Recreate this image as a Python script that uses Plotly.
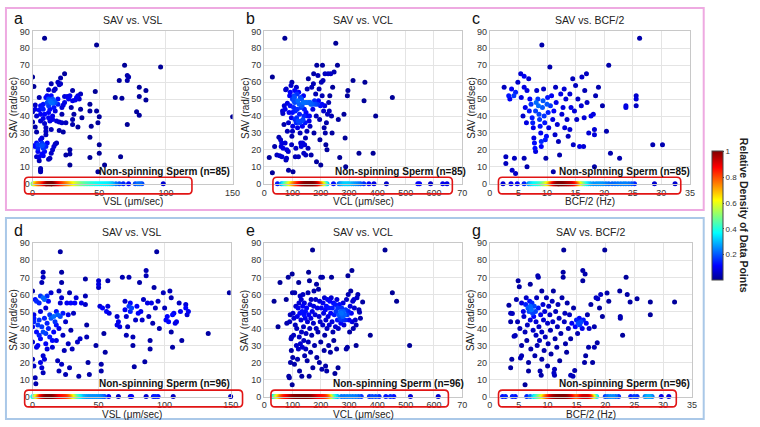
import numpy as np
import plotly.graph_objects as go

W, H = 760, 427

# ---------------- data ----------------
# Spinning sperm: (x, SAV) pairs
a_spin = [(0,63),(1,57.5),(0,42.5),(0,36.5),(1,22.5),(2,22),(2,46.5),(2,44),(3,40),(2,33.5),(3,30.5),(3,24),(4,23),(4,21),(3,16),(4,19),(5,16),(5,13.5),(6,9),(6,8),(6,7),
          (5,51),(5,43.5),(6,46),(6,41),(6,37),(6,26),(7,27),(7,24),(7,22.5),(8,23),(8,21),(8,16.5),(7,17.5),(9,19),
          (7,45),(8,47),(8,44),(8,38.5),(9,35.5),(9,41),(10,33),(10,31),(10,29),(10,22),(11,24),
          (10,51),(11,48),(11,52),(12,50),(12,55.5),(12,46),(12,42),(12,39),(13,37),(13,44),(13,49),
          (14,59),(14,52),(14,48),(15,50),(15,47.5),(16,49),(16,55),(15,40),(15,38),(14,32),(15,20),(14,18),(13,15),(12,14.5),
          (16,45),(17,48),(17,56),(17,43),(18,37),(18,24),(17,23.5),(16,22),
          (19,60),(19,50),(19,47),(20,58.5),(20,36.5),(20,31.5),(21,62.5),(21,59),(22,41),(22,45),(23,46.5),(23,30.5),(22,36),
          (24,48),(24,65),(24,51.5),(25,36),(25,17),(26,51.5),(27,50),(28,52),(28,17.5),(28,20),(28,11),(29,45),
          (30,49),(30,55),(30,38),(30,35),(31,41),(32,49.5),(33,51),(34,52),(34,33.5),(35,50),(37,39),(36,44),(36,53),
          (43,47),(43,43),(44,34),(43,27.5),(43,15.5),(47,54.5),(48,43),(49,36),(50,39.5),(50,23),(50,18),(49,7),(54,11),
          (9,86),(48,82),(62,51),(65,61),(66,16),(67,50.5),(69,70),(71,64),(72,63),(71,61),(71,35),(78,42.5),(80,40.5),
          (80,57),(80,51.5),(85,55),(85,49.5),(96,69),(150,39.5)]
b_spin = [(29,63),(18,15.5),(29,6.5),(37,22),(45,17),(52,27.5),(55,16.5),(58,26),(60,22),(62,24),(63,16),(65,43),(66,41.5),(67,21),
          (70,35),(71,46),(73,86),(74,44),(74,24),(76,55.5),(77,14),(78,56),(79,15),(80,20),(82,47.5),(82,31),(85,19),(86,36),(86,8),
          (88,42),(90,52),(92,54),(92,46),(95,58),(96,39),(97,23),(98,60),(98,28),(100,31),(100,50),(100,42),(101,34),(102,7),(104,45),
          (105,49),(106,52),(107,51),(108,55),(108,48),(109,38),(110,16),(110,43),(112,21),(113,36),(114,57),(115,39),(116,53),(117,44),
          (118,33),(119,49),(120,37),(121,16),(122,54),(124,47),(125,41),(126,36),(127,30),(128,51),(129,24),(130,45),(131,22),(132,50),
          (133,37),(134,46),(135,34),(136,24),(137,38),(138,48),(139,52),(140,18),(141,40),(142,44),(143,23),(144,48),(145,36),(146,27),
          (147,17),(148,42),(150,48),(151,31),(152,56),(154,40),(155,21),(156,62),(157,48),(159,37),(160,40),(162,34),(163,48),(165,47),
          (166,17),(168,57),(170,47),(172,44),(174,59),(175,65),(176,30),(178,49),(180,47),(182,53),(184,40),(185,13),(186,70),(188,47),
          (190,64),(192,49),(194,56),(196,38),(197,26),(199,46),(200,11),(202,60),(204,47),(205,52),(206,70),(208,61),(210,43),(212,33),
          (214,46),(215,65),(216,30),(218,23),(220,36),(222,20),(224,41),(226,65),(228,48),(230,43),(232,52),(235,65),(238,40),(240,30),
          (242,57),(247,66),(253,83),(259,70),(262,38),(267,15.5),(282,41),(286,27),(288,10),(294,52),(296,55),(314,61),(335,18),(353,49),
          (356,60),(385,18),(394,40),(453,51)]
c_spin = [(2.8,16),(2.8,12),(3.9,8),(4.5,6),(4.3,15),(6,15),(6.5,10),(2.5,57),(3.3,52),(3.5,50),(3.8,56),(4.2,52),(4.5,54),(4.9,60),
          (5.4,65),(5.5,51),(5.8,40),(6,63.5),(6,57),(6.2,45),(6.4,36),(6.5,55),(6.8,62),(6.9,43),(7,50),(7.2,47),(7.4,39),(7.5,36),
          (7.6,33),(7.7,27),(7.8,24),(7.9,21),(8,19),(8,43),(8.1,48),(8.2,55),(8.4,50),(8.5,46),(8.6,41),(8.7,38),(8.8,34),(8.9,30),
          (9,25),(9,22),(9.1,82),(9.2,45),(9.3,49),(9.4,56),(9.5,40),(9.6,36),(9.7,26),(9.8,15),(9.9,28),(10,47),(10.1,51),(10.2,42),
          (10.3,33),(10.5,69),(10.6,46),(10.8,52),(11,38),(11.1,7),(11.2,43),(11.4,29),(11.5,57),(11.6,48),(11.8,35),(12,25),(12.2,17),
          (12.4,53),(12.6,41),(12.8,45),(13,56),(13.1,33),(13.3,50),(13.5,38),(13.7,28),(14,32),(14,53),(14.2,45),(14.5,62),(14.6,23),
          (14.8,43),(15,58),(15.2,38),(15.4,50),(15.7,22),(16,46),(16.1,63),(16.4,22),(16.5,39),(16.6,55),(16.9,65),(17,48),(17.3,30),
          (17.7,40),(18.1,41),(18.3,32),(18.3,29),(18.3,10),(18.5,52),(19,57),(19.7,46),(20.4,31),(20.8,70),(21.1,18),(22.7,15),
          (23.8,46),(23.8,45),(25.6,52),(25.6,50),(25.6,46),(26.2,86),(28.5,23),(30.2,23)]
d_spin = [(0,62),(0,41),(0,32),(0,22),(1,18),(1,48),(1,46),(1,44),(2,11),(2.5,7.5),(2,57),(3,29),(3,38),(3,56),(4,42),(4,30),(5,55),
          (5,45),(5,36),(6,59),(6,50),(6,34),(6,20),(7,67),(7,17),(7,41),(8,73),(8,70),(8,58),(8,38),(8,24),(8,14),(9,57),(9,46),(9,22),
          (10,52),(10,37),(10,31),(11,59),(11,43),(11,28),(12,56),(12,40),(13,48),(13,35),(14,61),(14,46),(15,33),(15,29),(16,47),(16,38),
          (17,44),(18,50),(18,42),(18,33),(19,48),(19,21),(20,62),(20,40),(20,15),(21,85),(21,55),(21,47),(22,73),(22,67),(22,58),(22,19),
          (23,49),(23,36),(24,27),(25,13),(25,44),(26,55),(27,31),(27,48),(28,61),(28,17),(29,55),(29,39),(30,28),(31,49),(32,55),(33,58),
          (34,32),(35,12),(36,34),(37,55),(40,69),(40,59),(40,54),(41,42),(41,35),(42,20),(43,13),(48,30),(50,68),(50,66),(50,64),(51,53),
          (52,19),(52,15),(53,52),(54,37),(55,26),(56,50),(57,68),(57,53),(58,49),(64,47),(64,42),(65,44),(66,41),(68,70),(70,56),(70,51),
          (71,36),(71,47),(72,41),(73,70),(73,53),(74,55),(74,50),(75,52),(76,35),(76,30),(77,17.5),(78,45),(79,53),(80,49),(81,67),(82,50),
          (83,45),(84,57),(85,20.5),(86,74),(86,71),(87,55),(88,47),(89,33),(89,28),(90,55),(91,43),(92,64),(93,52),(94,85),(95,56),(96,40),
          (99,61),(100,52),(101,45),(102,47),(103,44),(104,62),(105,58),(105,38),(106,29),(106,48),(107,49),(108,43),(109,44),(111,55),
          (112,50),(113,33),(116,52),(116,54),(117,48),(118,50),(133,37),(149,61)]
e_spin = [(35,56),(49,41),(56,67),(78,57),(80,43),(85,70),(87,12),(89,11),(90,44),(92,48),(93,20),(95,34),(96,27),(97,35),(99,72),(99,7),
          (100,61),(101,23),(102,49),(104,36),(105,46),(107,19),(108,61),(110,42),(112,53),(114,30),(115,40),(117,47),(118,22),(120,52),
          (121,28),(122,67),(123,55),(124,35),(125,15),(126,49),(127,59),(128,31),(130,45),(131,57),(132,38),(133,12),(134,50),(135,29),
          (136,53),(137,60),(139,41),(140,33),(141,48),(142,55),(143,24),(145,46),(146,50),(147,28),(148,37),(150,52),(152,21),(153,44),
          (155,61),(156,32),(157,73),(158,48),(159,12),(160,68),(161,40),(162,54),(164,26),(165,46),(166,57),(168,36),(170,50),(171,86),
          (172,17),(174,43),(175,53),(176,62),(178,30),(180,48),(182,57),(184,40),(185,66),(186,23),(188,52),(190,38),(192,63),(194,47),
          (195,20),(196,56),(198,44),(200,70),(200,32),(202,52),(204,16),(206,70),(207,42),(208,55),(210,49),(212,27),(213,58),(214,36),
          (216,51),(217,18),(218,45),(220,53),(221,15),(222,40),(224,57),(226,47),(228,30),(229,52),(230,42),(232,56),(234,26),(235,49),
          (237,58),(238,70),(240,44),(241,52),(243,38),(245,55),(246,33),(248,48),(250,13.5),(251,54),(252,41),(254,50),(256,28),(257,57),
          (259,45),(260,52),(261,17),(262,40),(264,48),(266,54),(268,46),(270,50),(271,43),(273,49),(274,52),(276,45),(278,47),(279,55),
          (280,50),(282,42),(284,48),(286,45),(288,51),(290,28),(291,57),(293,48),(294,29),(296,71),(297,60),(298,50),(300,45),(302,38),
          (304,53),(306,62),(308,49),(310,74),(311,44),(313,56),(315,40),(317,57),(319,52),(322,45),(325,42),(325,30),(328,58),(331,60),
          (335,51),(337,49.5),(340,46),(348,55.5),(375,36),(427,86),(453,61),(468,56),(514,30)]
g_spin = [(3.3,53.6),(3.6,49),(3.9,48.8),(3.6,44),(4.2,35.4),(4.4,35.8),(3.6,17),(3.8,22),(5.3,22.6),(5.5,24),(4.9,68),(5.1,64.5),
          (4.6,57),(4.8,44),(5.2,40),(5.5,30),(5.5,55),(5.8,50),(5.9,47),(6.1,7),(6.1,38),(6.2,54),(6.3,58),(6.4,33),(6.5,42),(6.6,52),
          (6.7,15),(6.7,20),(6.8,50),(6.9,56),(7,66),(7,45),(7,53),(7.1,28),(7.2,51),(7.3,55),(7.4,49),(7.5,39),(7.6,47),(7.7,53),(7.8,24),
          (7.9,50),(8,36),(8,44),(8.1,58),(8.2,30),(8.3,71),(8.4,70),(8.4,52),(8.5,41),(8.6,33),(8.7,15),(8.8,48),(8.9,12.5),(9,62),(9,38),
          (9,22),(9.2,54),(9.3,45),(9.4,27),(9.5,50),(9.6,35),(9.8,58),(10,43),(10,18),(10.1,31),(10.2,53),(10.4,48),(10.5,39),(10.6,25),
          (10.8,56),(10.9,44),(11,62),(11.1,13.8),(11.2,12.5),(11.2,16),(11.3,34),(11.4,50),(11.6,29),(11.7,41),(11.8,54),(12,46),(12.1,21),
          (12.3,37),(12.5,58),(12.7,73),(12.7,70),(12.8,86),(12.9,44),(13,49),(13.1,31),(13.3,26),(13.4,55),(13.6,40),(13.8,48),(14,12.5),
          (14,34),(14.2,43),(14.4,12),(14.5,52),(14.7,15.3),(14.8,41),(15,45),(15.2,37),(15.3,43),(15.5,46),(15.6,42),(15.8,44),(16,40),
          (16.1,74),(16.1,68),(16.2,45),(16.4,20),(16.5,72),(16.6,24),(16.7,43),(16.9,48),(17.1,29),(17.2,40),(17.5,54),(17.8,20),(18.1,29),
          (18.1,41),(18.4,58),(18.6,31.6),(18.7,57.5),(19,52),(19.2,60),(19.5,47),(19.9,86),(20.3,60.8),(20.6,56),(22.5,62),(22.6,47),
          (22.6,46),(23,36),(23.6,70),(23.8,60),(24.3,55.5),(25.5,57.5),(27.8,55.5),(27.8,48),(32,55.5)]

# Non-spinning sperm (SAV = 0): x positions along the strip
a_still = [0.3,0.8,1.3,1.8,2.4,3,3.6,4.2,4.8,5.5,6.2,6.9,7.6,8.3,9.1,
           9.8,10.1,10.4,10.9,11.4,11.9,12.4,12.9,13.4,13.9,14.1,14.4,14.9,15.5,16.1,16.7,17.3,
           17.9,18.5,19.1,19.7,20.3,20.9,21.5,22.1,22.7,23.4,24.1,24.8,25.5,26.2,26.9,27.6,
           28.4,29.2,30,30.9,31.8,32.7, 33.7,34.7,35.7,36.8,37.9, 39,40.2,41.4,42.6,43.8,45,
           46.3,47.6,49,50.4,51.8,53.2,54.6,56,57.4,58.8,60.2, 62.5,65,68,72,77,79,80.5,82, 98]
b_still = [47, 61,67,73, 77,81,85,89, 92,95,98,101,104, 106.5,109,111.5,114,116.5,119,121.5,124,126.5,129,
           131,133,135,137,139,141,143,145,147,149,151,153,155,157,159,161,163,165,167,169,171,173,175,177,179,181,183,185,187,189,191,
           194,197,200,203,206,209,212, 217,222, 245, 265,271,277,283,289,295,300, 308,316,324,332,340,
           352,370,388,432, 543,549,588,631,646]
c_still = [2.3,3.7,4.8,6.0, 6.8,7.1,7.4,7.7,8.0,8.3,8.6,8.9,9.2, 9.45,9.65,9.85,10.05,10.25, 10.45,10.6,10.75,10.9,
           11.05,11.17,11.29,11.41,11.53,11.65,11.77,11.89,12.0,12.01,12.13,12.25,12.37,12.49,12.61,12.73,12.85,12.97,13.09,13.21,
           13.33,13.45,13.57,13.69,13.81,13.93,14.05,14.17,14.29,14.41,14.53,14.65,14.77,
           14.9,15.05,15.2,15.38,15.56,15.75, 15.97,16.2, 16.5,16.85,17.2,17.6,
           18.1,18.6,19.0,19.4,19.8,20.3,20.8,21.4,21.9,22.4,22.9,23.4,23.8, 24.3,24.8,25.3, 28.8,32.4]
d_still = [0.2,0.8,1.4,2.0,2.6,3.2,3.8,4.4, 5.0,5.5,6.0,
           6.4,6.8,7.2,7.6,8.0,8.4,8.8,9.2,9.6,10.0,10.4,10.8,11.2,11.6,12.0,12.2,12.4,12.8,13.2,13.6,14.0,14.4,14.8,15.2,15.6,16.0,16.4,16.8,17.2,
           17.6,18.1,18.6,19.0,19.5,20.0,20.4,20.9,21.3,21.8,22.2,22.7,23.1,23.6,24.0,24.5,24.9,25.4,25.8,26.3,26.7,27.2,
           27.7,28.3,28.9,29.5,30.1,30.7, 31.4,32.4,33.4,34.4,35.4,
           36.5,38,39.5,41,42.5,44,45.5,47,48.5,50,51.5,53,54.5,
           57.6,65,74,75,86,91.5,93,95,106.5,150]
e_still = [29,34,39, 43,47,51,55, 58,61,64,66.5,69,72,74.5,77,80,83,86,89,92,
           94,96.4,98.8,101.2,103.6,106,108.4,110.8,113.2,115.6,118,120.4,122.8,125.2,127.6,130,132.4,134.8,137.2,139.6,142,
           144.4,146.8,149.2,151.6,154,156.4,158.8,161.2,163.6,166,168.4,170.8,173.2,
           176,178.8,181.6,184.4,187.2,190,192.8,195.6,198.4,201.2,204,206.8,209.6,212.4,215.2,218,220.8,223.6,226.4,229.2,232,
           238,245,252,259, 273,283,293,303,313,323,333,343, 372,382,394,406,430,446,458,517,615]
g_still = [2.2,2.7,3.9,4.4,6.4,7.0, 7.6,7.9,8.15,8.4,8.65,8.9,9.15, 9.35,9.5,9.65,9.8,9.95,10.1,10.25,10.4,10.55,
           10.68,10.8,10.92,11.04,11.16,11.28,11.4,11.52,11.64,11.76,11.88,12.0,12.12,12.24,12.36,12.48,12.6,12.72,12.84,12.96,
           13.08,13.2,13.32,13.44,13.56,13.68,13.8,13.92,14.04,
           14.2,14.37,14.54,14.71,14.88,15.05,15.22,15.39,15.56,15.73,
           15.86,15.98,16.1,16.22,16.34,16.46,16.58,16.7,16.82,16.94,17.06,17.18,17.3,17.42,
           17.6,17.8,18.0,18.25,18.5, 20.0,20.45,20.9,21.35,21.8, 22.3, 24.4,25.0,25.5, 26.9,27.2,27.5,27.8,28.1, 29.7,31.0]

sav_ticks = [0, 10, 20, 30, 40, 50, 60, 70, 80, 90]
vsl_ticks = [0, 50, 100, 150]
vcl_ticks = [0, 100, 200, 300, 400, 500, 600, 700]
vcl_ticktext = ["0", "100", "200", "300", "400", "500", "600", "70"]
bcf_ticks = [0, 5, 10, 15, 20, 25, 30, 35]
cbar_ticks = [0.2, 0.4, 0.6, 0.8, 1]
cbar_ticktext = ["0.2", "0.4", "0.6", "0.8", "1"]

# ---------------- layout description ----------------
panels = [
    dict(letter="a", title="SAV vs. VSL", xlab="VSL (\u03bcm/sec)", spin=a_spin, still=a_still, n=85,
         px=(30, 233), py=(27, 183), xr=(0, 150), xt=vsl_ticks, xtt=None, box=(-6, 119.5), lab_r=232, lab_y=171),
    dict(letter="b", title="SAV vs. VCL", xlab="VCL (\u03bcm/sec)", spin=b_spin, still=b_still, n=85,
         px=(265, 466), py=(27, 183), xr=(0, 700), xt=vcl_ticks, xtt=vcl_ticktext, box=(31, 665), lab_r=472, lab_y=171),
    dict(letter="c", title="SAV vs. BCF/2", xlab="BCF/2 (Hz)", spin=c_spin, still=c_still, n=85,
         px=(494, 697), py=(27, 183), xr=(0, 35), xt=bcf_ticks, xtt=None, box=(1.5, 33.4), lab_r=699, lab_y=171),
    dict(letter="d", title="SAV vs. VSL", xlab="VSL (\u03bcm/sec)", spin=d_spin, still=d_still, n=96,
         px=(30, 231), py=(244, 401), xr=(0, 150), xt=vsl_ticks, xtt=None, box=(-6, 159), lab_r=232, lab_y=388),
    dict(letter="e", title="SAV vs. VCL", xlab="VCL (\u03bcm/sec)", spin=e_spin, still=e_still, n=96,
         px=(265, 466), py=(244, 401), xr=(0, 700), xt=vcl_ticks, xtt=vcl_ticktext, box=(24, 651), lab_r=470, lab_y=388),
    dict(letter="g", title="SAV vs. BCF/2", xlab="BCF/2 (Hz)", spin=g_spin, still=g_still, n=96,
         px=(494, 699), py=(244, 401), xr=(0, 35), xt=bcf_ticks, xtt=None, box=(1.5, 32.3), lab_r=699, lab_y=388),
]

JET = [[0.0, "rgb(0,0,143)"], [0.111, "rgb(0,0,255)"], [0.365, "rgb(0,255,255)"],
       [0.619, "rgb(255,255,0)"], [0.873, "rgb(255,0,0)"], [1.0, "rgb(128,0,0)"]]
FONT = "Liberation Sans, Arial, sans-serif"


def kde2(xs, ys, hx, hy):
    dx = (xs[:, None] - xs[None, :]) / hx
    dy = (ys[:, None] - ys[None, :]) / hy
    return np.exp(-0.5 * (dx ** 2 + dy ** 2)).sum(1)


def kde1(xs, h):
    d = (xs[:, None] - xs[None, :]) / h
    return np.exp(-0.5 * d ** 2).sum(1)


def fx(px):
    return px / W


def fy(py):
    return 1 - py / H


fig = go.Figure()
annotations = []
shapes = []

for i, p in enumerate(panels):
    k = "" if i == 0 else str(i + 1)
    xa, ya = "x" + k, "y" + k
    x0, x1 = p["xr"]
    span = x1 - x0

    sx = np.array([q[0] for q in p["spin"]], float)
    sy = np.array([q[1] for q in p["spin"]], float)
    dens = kde2(sx, sy, 0.025 * span, 0.025 * 90)
    dens = (dens / dens.max()) ** 1.5 * 0.22
    o = np.argsort(dens)
    fig.add_trace(go.Scatter(x=sx[o], y=sy[o], mode="markers", xaxis=xa, yaxis=ya, showlegend=False,
                             marker=dict(size=5, color=dens[o], coloraxis="coloraxis", line=dict(width=0))))

    st = np.array(p["still"], float)
    d1 = kde1(st, 0.02 * span)
    d1 = d1 / d1.max()
    o = np.argsort(d1)
    fig.add_trace(go.Scatter(x=st[o], y=np.zeros(len(st)), mode="markers", xaxis=xa, yaxis=ya, showlegend=False,
                             cliponaxis=False,
                             marker=dict(size=5, color=d1[o], coloraxis="coloraxis", line=dict(width=0))))

    axx = dict(domain=[fx(p["px"][0]), fx(p["px"][1])], range=list(p["xr"]), tickvals=p["xt"],
               showgrid=True, gridcolor="#e4e4e4", gridwidth=1, zeroline=False, showline=True,
               linecolor="#c8c8c8", linewidth=1, mirror=True, ticks="", anchor=ya,
               tickfont=dict(family=FONT, size=9, color="#333"))
    if p["xtt"]:
        axx["ticktext"] = p["xtt"]
    axy = dict(domain=[fy(p["py"][1]), fy(p["py"][0])], range=[0, 90], tickvals=sav_ticks,
               showgrid=True, gridcolor="#e4e4e4", gridwidth=1, zeroline=False, showline=True,
               linecolor="#c8c8c8", linewidth=1, mirror=True, ticks="", anchor=xa,
               tickfont=dict(family=FONT, size=9, color="#333"))
    fig.update_layout(**{"xaxis" + k: axx, "yaxis" + k: axy})

    pxl, pxr = p["px"]
    pyt, pyb = p["py"]
    cx = (pxl + pxr) / 2

    def dx2px(v):
        return pxl + (v - x0) / span * (pxr - pxl)

    def dy2px(v):
        return pyb - v / 90 * (pyb - pyt)

    annotations.append(dict(x=fx(cx), y=fy(pyt - 12), xref="paper", yref="paper", text=p["title"], showarrow=False,
                            font=dict(family=FONT, size=10.5, color="#222"), xanchor="center", yanchor="middle"))
    annotations.append(dict(x=fx(pxl - 14), y=fy(pyt - 13), xref="paper", yref="paper", text=p["letter"],
                            showarrow=False, font=dict(family=FONT, size=16, color="#111"),
                            xanchor="center", yanchor="middle"))
    annotations.append(dict(x=fx(pxl - 19), y=fy((pyt + pyb) / 2), xref="paper", yref="paper",
                            text="SAV (rad/sec)", textangle=-90, showarrow=False,
                            font=dict(family=FONT, size=10, color="#222"), xanchor="center", yanchor="middle"))
    annotations.append(dict(x=fx(cx), y=fy(pyb + 18), xref="paper", yref="paper", text=p["xlab"],
                            showarrow=False, font=dict(family=FONT, size=10, color="#222"),
                            xanchor="center", yanchor="middle"))
    annotations.append(dict(x=fx(p["lab_r"]), y=fy(p["lab_y"]), xref="paper", yref="paper",
                            text="<b>Non-spinning Sperm (n=%d)</b>" % p["n"], showarrow=False,
                            font=dict(family=FONT, size=10, color="#111"), xanchor="right", yanchor="middle"))

    bx0, bx1 = dx2px(p["box"][0]), dx2px(p["box"][1])
    by0, by1 = dy2px(3.8), dy2px(-6)
    r = 4
    path = ("M {a},{b} L {c},{b} Q {d},{b} {d},{e} L {d},{f} Q {d},{g} {c},{g} L {a},{g} Q {h},{g} {h},{f} "
            "L {h},{e} Q {h},{b} {a},{b} Z").format(
        a=fx(bx0 + r), b=fy(by0), c=fx(bx1 - r), d=fx(bx1), e=fy(by0 + r), f=fy(by1 - r), g=fy(by1), h=fx(bx0))
    shapes.append(dict(type="path", path=path, xref="paper", yref="paper",
                       line=dict(color="rgb(225,20,20)", width=1.6)))

shapes.append(dict(type="rect", xref="paper", yref="paper", x0=fx(3), x1=fx(711), y0=fy(210), y1=fy(3),
                   line=dict(color="rgb(238,170,225)", width=2)))
shapes.append(dict(type="rect", xref="paper", yref="paper", x0=fx(3), x1=fx(711), y0=fy(424), y1=fy(218),
                   line=dict(color="rgb(170,200,232)", width=2)))

annotations.append(dict(x=fx(752), y=fy(215), xref="paper", yref="paper", text="<b>Relative Density of Data Points</b>",
                        textangle=90, showarrow=False, font=dict(family=FONT, size=10.5, color="#222"),
                        xanchor="center", yanchor="middle", borderpad=0))

fig.update_layout(
    width=W, height=H, autosize=False, margin=dict(l=0, r=0, t=0, b=0),
    paper_bgcolor="white", plot_bgcolor="white", showlegend=False,
    annotations=annotations, shapes=shapes,
    coloraxis=dict(colorscale=JET, cmin=0, cmax=1,
                   colorbar=dict(x=fx(719), xanchor="left", y=fy(150), yanchor="top", len=132 / H,
                                 lenmode="fraction", thickness=11, tickvals=cbar_ticks, ticktext=cbar_ticktext,
                                 ticks="outside", ticklen=1, tickfont=dict(family=FONT, size=8, color="#333"),
                                 outlinewidth=1, outlinecolor="#444", xpad=0, ypad=0)),
)

fig.write_html("out.html", config={"displayModeBar": False},
               post_script="document.body.style.margin='0';document.body.style.overflow='hidden';")
